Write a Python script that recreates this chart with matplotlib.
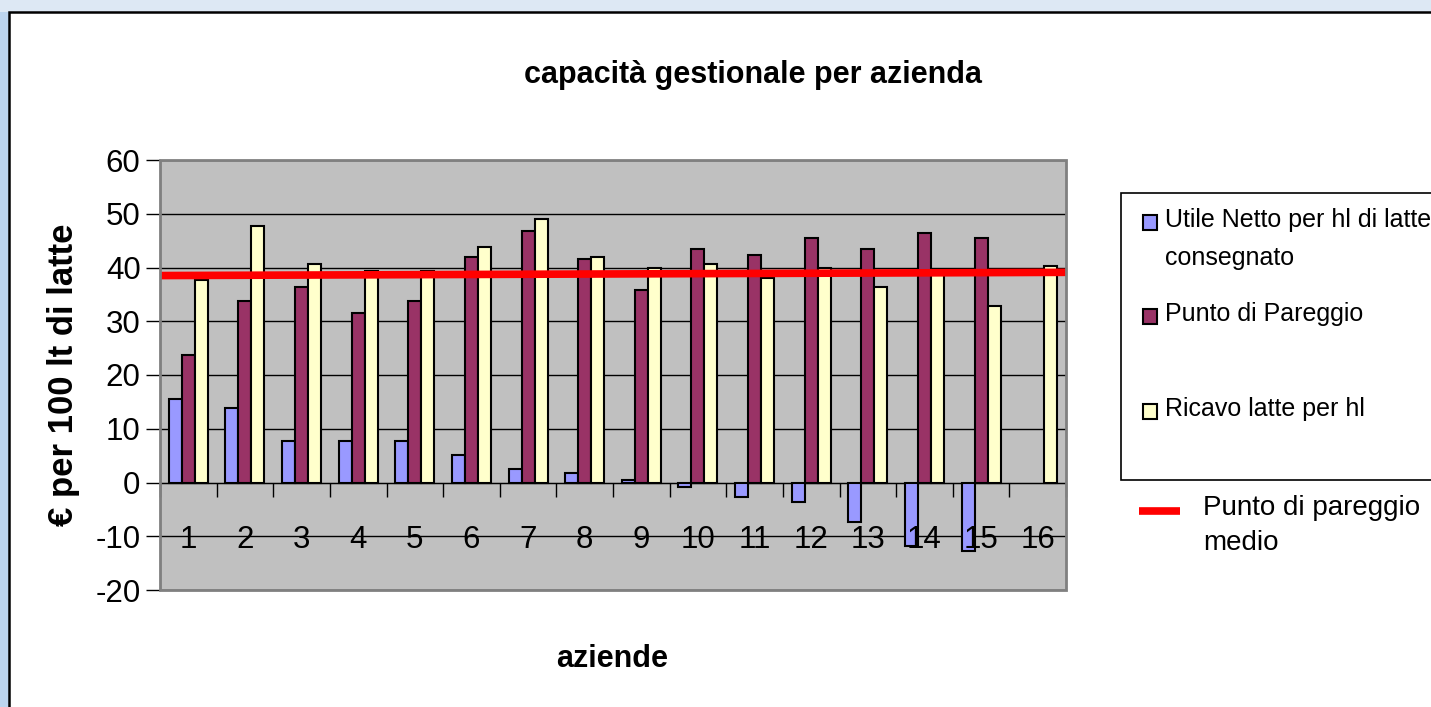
import matplotlib
matplotlib.use("Agg")
import matplotlib.pyplot as plt
from matplotlib.patches import Rectangle
import numpy as np

# values (azienda 16 has no utile / pareggio bar)
aziende = [str(i) for i in range(1, 17)]
utile_netto = [15.6, 13.8, 7.7, 7.7, 7.7, 5.2, 2.5, 1.7, 0.4, -0.9, -2.7, -3.6, -7.4, -11.8, -12.7, np.nan]
punto_pareggio = [23.8, 33.8, 36.4, 31.6, 33.8, 42.0, 46.8, 41.6, 35.9, 43.4, 42.4, 45.5, 43.4, 46.5, 45.5, np.nan]
ricavo_latte = [37.7, 47.7, 40.7, 39.4, 39.4, 43.8, 49.0, 42.0, 39.9, 40.7, 38.0, 39.9, 36.4, 39.0, 32.9, 40.3]
pareggio_medio = [38.5, 39.1]  # average line, left and right end

W, H = 1431, 707
plt.rcParams['font.family'] = ['Liberation Sans', 'DejaVu Sans']
plt.rcParams['axes.unicode_minus'] = False


def fx(px):
    return px / W


def fy(py):
    return 1 - py / H


fig = plt.figure(figsize=(W / 100, H / 100), dpi=100)
fig.patch.set_facecolor('#dde8f4')
fig.patches.append(Rectangle((0, 0), fx(9), fy(12), transform=fig.transFigure,
                             facecolor='#bcd4ee', edgecolor='none', zorder=-10))
fig.patches.append(Rectangle((fx(9), -0.02), 1, fy(12) + 0.02, transform=fig.transFigure,
                             facecolor='white', edgecolor='black', lw=1.8, zorder=-9))

ax = fig.add_axes([fx(160), fy(590), fx(1066) - fx(160), fy(160) - fy(590)])
ax.set_facecolor('#c0c0c0')
ax.set_axisbelow(True)

x = np.arange(1, len(aziende) + 1)
w = 0.23
ax.bar(x - w, utile_netto, w, color='#9999ff', edgecolor='black', lw=1.5, zorder=3)
ax.bar(x, punto_pareggio, w, color='#993366', edgecolor='black', lw=1.5, zorder=3)
ax.bar(x + w, ricavo_latte, w, color='#ffffcc', edgecolor='black', lw=1.5, zorder=3)
ax.plot([0.5, len(aziende) + 0.5], pareggio_medio, color='#ff0000', lw=5.5,
        solid_capstyle='butt', zorder=5, clip_on=False)

ax.set_xlim(0.5, len(aziende) + 0.5)
ax.set_ylim(-20, 60)
ax.set_yticks(range(-20, 61, 10))
ax.yaxis.grid(True, color='black', lw=1)
ax.tick_params(axis='y', direction='out', length=10, width=1, pad=4, labelsize=22.5)

# category axis sits on zero
ax.spines['bottom'].set_position(('data', 0))
ax.spines['bottom'].set_color('black')
ax.spines['left'].set_color('black')
ax.spines['top'].set_visible(False)
ax.spines['right'].set_visible(False)
ax.add_patch(Rectangle((0, 0), 1, 1, transform=ax.transAxes, fill=False,
                       edgecolor='#808080', lw=2, zorder=6, clip_on=False))
ax.set_xticks(np.arange(0.5, len(aziende) + 1, 1))
ax.set_xticklabels([])
ax.tick_params(axis='x', direction='out', length=10, width=1)
for xi, lab in zip(x, aziende):
    ax.text(xi, -12.2, lab, ha='center', va='baseline', fontsize=22.5, zorder=4)

fig.text(fx(753), fy(83), 'capacità gestionale per azienda', ha='center', va='baseline',
         fontsize=22, fontweight='bold')
fig.text(fx(612), fy(667), 'aziende', ha='center', va='baseline', fontsize=22, fontweight='bold')
fig.text(fx(64), fy(375), '€ per 100 lt di latte', ha='center', va='center', rotation=90,
         fontsize=25, fontweight='bold')

# legend box
fig.patches.append(Rectangle((fx(1121), fy(480)), 1, fy(193) - fy(480), transform=fig.transFigure,
                             facecolor='white', edgecolor='black', lw=1.2, zorder=1))
entries = [('#9999ff', ['Utile Netto per hl di latte', 'consegnato'], 222),
           ('#993366', ['Punto di Pareggio'], 316),
           ('#ffffcc', ['Ricavo latte per hl'], 411)]
for col, lines, yc in entries:
    fig.patches.append(Rectangle((fx(1143), fy(yc + 8)), fx(14), 15 / H, transform=fig.transFigure,
                                 facecolor=col, edgecolor='black', lw=1.5, zorder=2))
    for k, t in enumerate(lines):
        fig.text(fx(1165), fy(yc - 2 + 38 * k), t, ha='left', va='center', fontsize=18, zorder=3)

fig.lines.append(plt.Line2D([fx(1139), fx(1180)], [fy(511), fy(511)], transform=fig.transFigure,
                            color='#ff0000', lw=5.5, solid_capstyle='butt'))
fig.text(fx(1203), fy(508), 'Punto di pareggio', ha='left', va='center', fontsize=20)
fig.text(fx(1203), fy(543), 'medio', ha='left', va='center', fontsize=20)

fig.savefig('out.png', dpi=100)
